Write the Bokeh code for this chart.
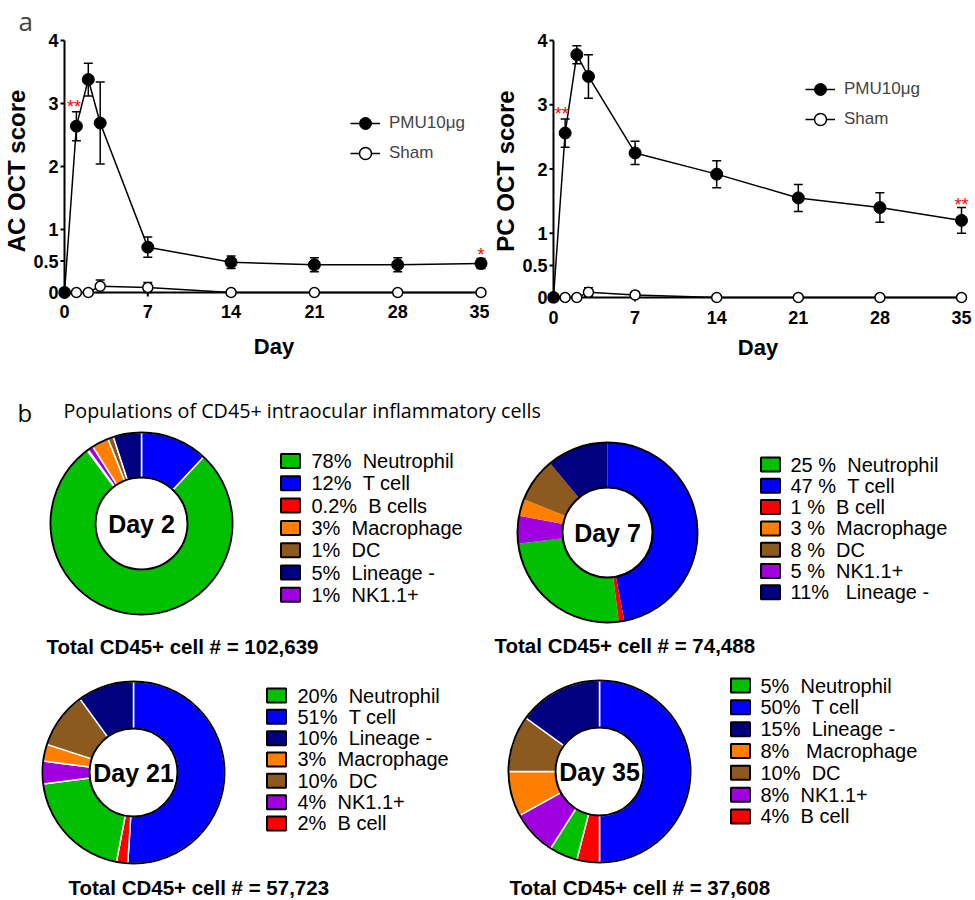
import math
from bokeh.plotting import figure
from bokeh.models import (Range1d, ColumnDataSource, FixedTicker, NumeralTickFormatter,
                          Legend, LegendItem)
from bokeh.layouts import column, row
from bokeh.embed import file_html
from bokeh.resources import INLINE
from bokeh.core.properties import value

# ---------------- data: OCT scores ----------------
days = [0, 1, 2, 3, 7, 14, 21, 28, 35]
ac_pmu = [0, 2.64, 3.38, 2.69, 0.72, 0.48, 0.44, 0.44, 0.46]
ac_pmu_err = [0, 0.23, 0.26, 0.65, 0.16, 0.10, 0.11, 0.11, 0.08]
ac_sham = [0, 0, 0, 0.10, 0.08, 0, 0, 0, 0]
ac_sham_err = [0, 0, 0, 0.10, 0.08, 0, 0, 0, 0]
pc_pmu = [0, 2.56, 3.78, 3.44, 2.25, 1.92, 1.55, 1.40, 1.20]
pc_pmu_err = [0, 0.22, 0.14, 0.34, 0.18, 0.21, 0.21, 0.23, 0.20]
pc_sham = [0, 0, 0, 0.08, 0.04, 0, 0, 0, 0]
pc_sham_err = [0, 0, 0, 0.07, 0.03, 0, 0, 0, 0]
x_ticks = [0, 7, 14, 21, 28, 35]
y_ticks = [0, 0.5, 1, 2, 3, 4]
series_names = ["PMU10\u03bcg", "Sham"]
ac_sig_x = [0.8, 35]
ac_sig_y = [3.03, 0.67]
ac_sig_text = ["**", "*"]
pc_sig_x = [0.7, 35]
pc_sig_y = [2.93, 1.51]
pc_sig_text = ["**", "**"]

# ---------------- data: CD45+ populations ----------------
cell_types = ["Neutrophil", "T cell", "B cell", "Macrophage", "DC", "Lineage -", "NK1.1+"]
cell_colors = ["#00C000", "#0000FF", "#FF0000", "#FF8000", "#8C5A1E", "#000080", "#A000E0"]

d2_slices = ["T cell", "Neutrophil", "B cell", "NK1.1+", "Macrophage", "DC", "Lineage -"]
d2_values = [12, 78, 0.2, 1, 3, 1, 5]
d2_legend = ["Neutrophil", "T cell", "B cell", "Macrophage", "DC", "Lineage -", "NK1.1+"]
d2_labels = ["78%  Neutrophil", "12%  T cell", "0.2%  B cells", "3%  Macrophage",
             "1%  DC", "5%  Lineage -", "1%  NK1.1+"]
d2_total = "Total CD45+ cell # = 102,639"

d7_slices = ["T cell", "B cell", "Neutrophil", "NK1.1+", "Macrophage", "DC", "Lineage -"]
d7_values = [47, 1, 25, 5, 3, 8, 11]
d7_legend = ["Neutrophil", "T cell", "B cell", "Macrophage", "DC", "NK1.1+", "Lineage -"]
d7_labels = ["25 %  Neutrophil", "47 %  T cell", "1 %  B cell", "3 %  Macrophage",
             "8 %  DC", "5 %  NK1.1+", "11%   Lineage -"]
d7_total = "Total CD45+ cell # = 74,488"

d21_slices = ["T cell", "B cell", "Neutrophil", "NK1.1+", "Macrophage", "DC", "Lineage -"]
d21_values = [51, 2, 20, 4, 3, 10, 10]
d21_legend = ["Neutrophil", "T cell", "Lineage -", "Macrophage", "DC", "NK1.1+", "B cell"]
d21_labels = ["20%  Neutrophil", "51%  T cell", "10%  Lineage -", "3%  Macrophage",
              "10%  DC", "4%  NK1.1+", "2%  B cell"]
d21_total = "Total CD45+ cell # = 57,723"

d35_slices = ["T cell", "B cell", "Neutrophil", "NK1.1+", "Macrophage", "DC", "Lineage -"]
d35_values = [50, 4, 5, 8, 8, 10, 15]
d35_legend = ["Neutrophil", "T cell", "Lineage -", "Macrophage", "DC", "NK1.1+", "B cell"]
d35_labels = ["5%  Neutrophil", "50%  T cell", "15%  Lineage -", "8%   Macrophage",
              "10%  DC", "8%  NK1.1+", "4%  B cell"]
d35_total = "Total CD45+ cell # = 37,608"

COLOR = dict(zip(cell_types, cell_colors))

FONT = "'Liberation Sans', Arial, sans-serif"
HUMAN = "'Open Sans', sans-serif"

PAGE_W = 975
PAGE_H = 900
TOP_H = 390
TICK_LEN = 4


def line_chart(fig_left, width, x0px, xppu, fl, fr, y0px, yppu, ft, fb,
               ylabel, pmu, pmu_e, sham, sham_e, sig_x, sig_y, sig_t, leg_left, leg_bottom,
               tick_standoff, label_standoff, title=None):
    p = figure(width=width, height=TOP_H,
               x_range=Range1d((fl - x0px) / xppu, (fr - x0px) / xppu),
               y_range=Range1d((y0px - fb) / yppu, (y0px - ft) / yppu),
               output_backend="svg", toolbar_location=None,
               min_border_left=fl - fig_left, min_border_right=fig_left + width - fr,
               min_border_top=ft, min_border_bottom=TOP_H - fb,
               title=title)
    p.grid.visible = False
    p.outline_line_color = None
    p.background_fill_color = "white"
    if title:
        p.title.text_font = HUMAN
        p.title.text_font_size = "26px"
        p.title.text_font_style = "normal"
        p.title.align = "left"
        p.title.offset = -40
        p.title.standoff = 0
    for ax in (p.xaxis[0], p.yaxis[0]):
        ax.axis_line_color = None
        ax.major_tick_line_color = None
        ax.major_tick_in = 0
        ax.major_tick_out = 0
        ax.minor_tick_line_color = None
        ax.major_label_text_font = FONT
        ax.major_label_text_font_style = "bold"
        ax.major_label_text_font_size = "18px"
        ax.major_label_text_color = "black"
        ax.axis_label_text_font = FONT
        ax.axis_label_text_font_style = "bold"
        ax.axis_label_text_color = "black"
    p.xaxis.ticker = FixedTicker(ticks=x_ticks)
    p.yaxis.ticker = FixedTicker(ticks=y_ticks)
    p.yaxis.formatter = NumeralTickFormatter(format="0.[0]")
    p.xaxis.formatter = NumeralTickFormatter(format="0")
    p.xaxis.axis_label = "Day"
    p.xaxis.axis_label_text_font_size = "22px"
    p.xaxis.major_label_standoff = tick_standoff
    p.xaxis.axis_label_standoff = label_standoff
    p.yaxis.axis_label = ylabel
    p.yaxis.axis_label_text_font_size = "24px"
    p.yaxis.axis_label_standoff = 0
    p.yaxis.major_label_standoff = 0

    # own axis lines and tick marks, drawn at the data zero like the original
    p.line(x=[x_ticks[0], x_ticks[0]], y=[y_ticks[0], y_ticks[-1]], line_color="black", line_width=2)
    p.line(x=[x_ticks[0], x_ticks[-1]], y=[y_ticks[0], y_ticks[0]], line_color="black", line_width=2)
    tx = TICK_LEN / xppu
    ty = TICK_LEN / yppu
    p.segment(x0=[x_ticks[0]] * len(y_ticks), y0=y_ticks,
              x1=[x_ticks[0] - tx] * len(y_ticks), y1=y_ticks, line_color="black", line_width=2)
    p.segment(x0=x_ticks, y0=[y_ticks[0]] * len(x_ticks),
              x1=x_ticks, y1=[y_ticks[0] - ty] * len(x_ticks), line_color="black", line_width=2)

    cap = 4.5 / xppu

    def errbars(ys, es):
        keep = [i for i, e in enumerate(es) if e > 0]
        xs = [days[i] for i in keep]
        lo = [ys[i] - es[i] for i in keep]
        hi = [ys[i] + es[i] for i in keep]
        src = ColumnDataSource(dict(x=xs, lo=lo, hi=hi,
                                    xl=[x - cap for x in xs], xr=[x + cap for x in xs]))
        p.segment(x0="x", y0="lo", x1="x", y1="hi", source=src, line_color="black", line_width=1.5)
        p.segment(x0="xl", y0="hi", x1="xr", y1="hi", source=src, line_color="black", line_width=1.5)
        p.segment(x0="xl", y0="lo", x1="xr", y1="lo", source=src, line_color="black", line_width=1.5)

    sham_src = ColumnDataSource(dict(x=days, y=sham))
    pmu_src = ColumnDataSource(dict(x=days, y=pmu))
    l_sham = p.line("x", "y", source=sham_src, line_color="black", line_width=1.5)
    errbars(sham, sham_e)
    m_sham = p.scatter("x", "y", source=sham_src, size=10, marker="circle",
                       fill_color="white", line_color="black", line_width=1.5)
    l_pmu = p.line("x", "y", source=pmu_src, line_color="black", line_width=1.5)
    errbars(pmu, pmu_e)
    m_pmu = p.scatter("x", "y", source=pmu_src, size=12, marker="circle",
                      fill_color="black", line_color="black")

    p.text(x=sig_x, y=sig_y, text=sig_t, text_color="#FF0000", text_font=value(FONT),
           text_font_size="18px", text_align="center", text_baseline="middle", y_offset=5)

    leg = Legend(items=[LegendItem(label=series_names[0], renderers=[l_pmu, m_pmu]),
                        LegendItem(label=series_names[1], renderers=[l_sham, m_sham])],
                 location=(leg_left - fl, fb - leg_bottom),
                 glyph_width=30, glyph_height=30, spacing=0, padding=0, margin=0,
                 label_standoff=9, label_text_font=FONT, label_text_font_size="17px",
                 border_line_color=None, background_fill_alpha=0)
    p.add_layout(leg)
    return p


LEFT_W = 489
FRAME_TOP = 38
FRAME_BOTTOM = 303
p_ac = line_chart(0, LEFT_W, 64, 11.9, 58, LEFT_W, 292, 63.0, FRAME_TOP, FRAME_BOTTOM,
                  "AC OCT score", ac_pmu, ac_pmu_err, ac_sham, ac_sham_err,
                  ac_sig_x, ac_sig_y, ac_sig_text, 350, 168, 1, 13, title="a")
p_pc = line_chart(LEFT_W, PAGE_W - LEFT_W, 552, (961 - 552) / 35, 546, 968, 297, 64.25,
                  FRAME_TOP, FRAME_BOTTOM,
                  "PC OCT score", pc_pmu, pc_pmu_err, pc_sham, pc_sham_err,
                  pc_sig_x, pc_sig_y, pc_sig_text, 804, 134, 7, 8)

# ---------------- bottom panel ----------------
BW, BH = PAGE_W, PAGE_H - TOP_H
pb = figure(width=BW, height=BH, x_range=Range1d(0, BW), y_range=Range1d(0, BH),
            x_axis_type=None, y_axis_type=None, output_backend="svg", toolbar_location=None,
            min_border=0)
pb.grid.visible = False
pb.outline_line_color = None


def X(px):
    return px


def Y(py):
    return PAGE_H - py


pb.text(x=[X(17)], y=[Y(412)], text=["b"], text_font=value(HUMAN), text_font_size="24px",
        text_align="left", text_baseline="alphabetic")
pb.text(x=[X(63)], y=[Y(410)], text=["Populations of CD45+ intraocular inflammatory cells"],
        text_font=value(HUMAN), text_font_size="19.7px", text_align="left", text_baseline="alphabetic")


def donut(cx, cy, r_out, r_in, slices, vals, sep, label):
    tot = sum(vals)
    cum = 0.0
    starts, ends = [], []
    for v in vals:
        starts.append(math.pi / 2 - 2 * math.pi * cum / tot)
        cum += v
        ends.append(math.pi / 2 - 2 * math.pi * cum / tot)
    src = ColumnDataSource(dict(start=starts, end=ends, color=[COLOR[c] for c in slices]))
    pb.annular_wedge(x=X(cx), y=Y(cy), inner_radius=r_in, outer_radius=r_out,
                     start_angle="start", end_angle="end", direction="clock",
                     fill_color="color", line_color="white" if sep else None,
                     line_width=1.5, source=src)
    pb.circle(x=[X(cx), X(cx)], y=[Y(cy), Y(cy)], radius=[r_out, r_in],
              fill_color=None, line_color="black", line_width=2)
    pb.text(x=[X(cx)], y=[Y(cy)], text=[label], text_font=value(FONT), text_font_size="25px",
            text_font_style="bold", text_align="center", text_baseline="middle")


def legend_block(sq_x, y0, dy, text_x, cells, labels):
    ys = [Y(y0 + i * dy) for i in range(len(cells))]
    shown = [t.replace("  ", " \u00a0") for t in labels]
    pb.rect(x=[X(sq_x)] * len(cells), y=ys, width=19, height=14,
            fill_color=[COLOR[c] for c in cells], line_color="black", line_width=2)
    pb.text(x=[X(text_x)] * len(cells), y=ys, text=shown, text_font=value(FONT),
            text_font_size="20px", text_align="left", text_baseline="middle")


def total(x, y, txt):
    pb.text(x=[X(x)], y=[Y(y)], text=[txt], text_font=value(FONT), text_font_size="20.5px",
            text_font_style="bold", text_align="left", text_baseline="middle")


donut(141, 523, 91, 46, d2_slices, d2_values, True, "Day 2")
legend_block(290, 460.5, 22.3, 311, d2_legend, d2_labels)
total(46, 646, d2_total)

donut(607, 532, 90, 45, d7_slices, d7_values, False, "Day 7")
legend_block(770, 464, 21.3, 790, d7_legend, d7_labels)
total(494, 645, d7_total)

donut(133, 772, 91, 44, d21_slices, d21_values, True, "Day 21")
legend_block(276, 695, 21.33, 297, d21_legend, d21_labels)
total(68, 887, d21_total)

donut(599, 771, 91, 44, d35_slices, d35_values, True, "Day 35")
legend_block(740, 685, 21.83, 760, d35_legend, d35_labels)
total(509, 887, d35_total)

layout = column(row(p_ac, p_pc), pb)
open("out.html", "w").write(file_html(layout, INLINE))
